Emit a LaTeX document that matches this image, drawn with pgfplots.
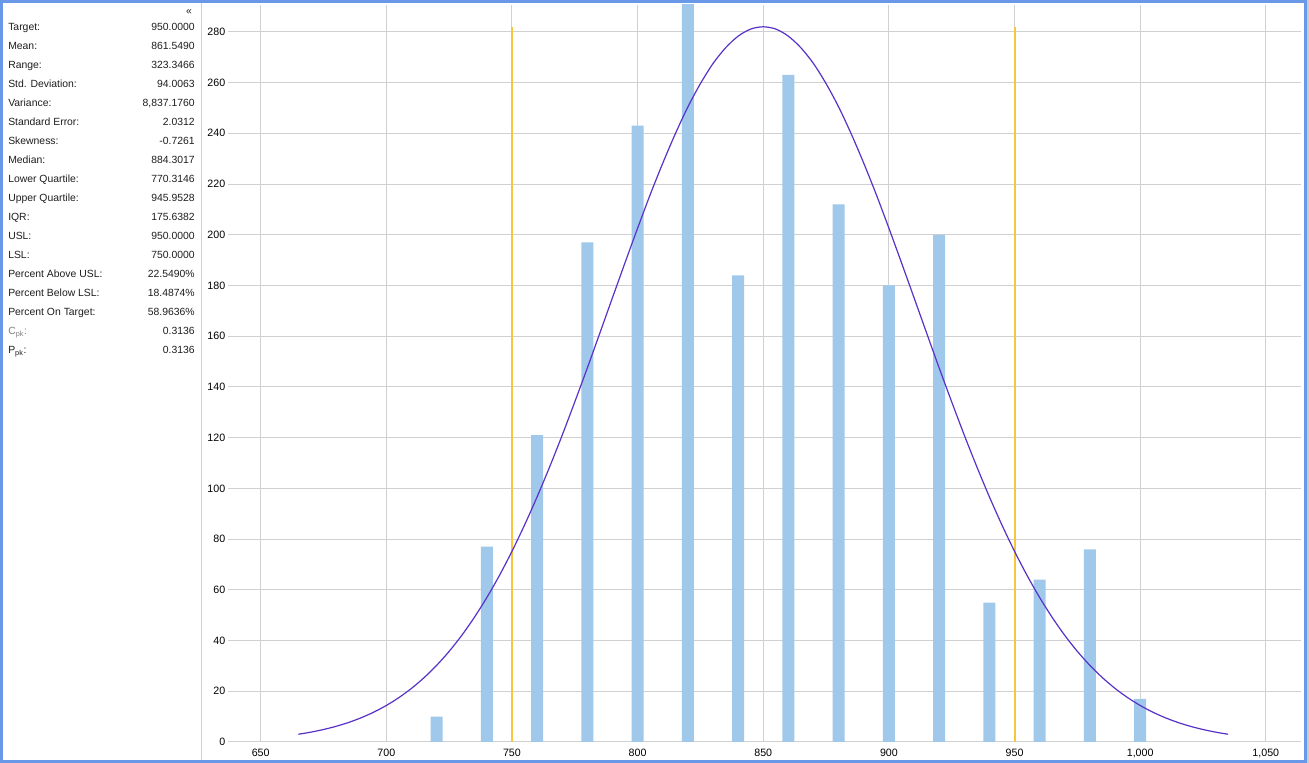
\documentclass[border=0pt]{standalone}
\usepackage{fontspec}
\setmainfont{Liberation Sans}
\usepackage{pgfplots}
\pgfplotsset{compat=1.18}
\definecolor{barblue}{RGB}{160,200,235}
\definecolor{specline}{RGB}{248,198,60}
\definecolor{curvecol}{RGB}{88,50,200}
\definecolor{gridgray}{RGB}{208,208,208}
\definecolor{frameblue}{RGB}{106,152,232}
\definecolor{txt}{RGB}{30,30,30}
\begin{document}
\begin{tikzpicture}[x=0.75pt,y=0.75pt]
\useasboundingbox (0,0) rectangle (1309,763);
\fill[white] (0,0) rectangle (1309,763);
\draw[gridgray, line width=0.75pt] (201.5,3) -- (201.5,760);
\begin{scope}[font=\fontsize{7.8}{9}\selectfont, text=txt]
\node[anchor=center] at (189,751) {«};
\foreach \lab/\val [count=\i] in {
 {Target:}/{950.0000},
 {Mean:}/{861.5490},
 {Range:}/{323.3466},
 {Std. Deviation:}/{94.0063},
 {Variance:}/{8,837.1760},
 {Standard Error:}/{2.0312},
 {Skewness:}/{-0.7261},
 {Median:}/{884.3017},
 {Lower Quartile:}/{770.3146},
 {Upper Quartile:}/{945.9528},
 {IQR:}/{175.6382},
 {USL:}/{950.0000},
 {LSL:}/{750.0000},
 {Percent Above USL:}/{22.5490\%},
 {Percent Below LSL:}/{18.4874\%},
 {Percent On Target:}/{58.9636\%},
 {\textcolor{gray}{C\textsubscript{pk}:}}/{0.3136},
 {P\textsubscript{pk}:}/{0.3136}} {
  \node[anchor=base west, inner sep=0pt] at (8,{763-31-(\i-1)*19}) {\lab};
  \node[anchor=base east, inner sep=0pt] at (195,{763-31-(\i-1)*19}) {\val};
}
\end{scope}
\begin{axis}[
  at={(171pt,15.75pt)}, anchor=south west, scale only axis,
  width=804.75pt, height=552.75pt,
  xmin=637, xmax=1064, ymin=0, ymax=290.6,
  xtick={650,700,...,1050}, ytick={0,20,...,280},
  grid=major, grid style={gridgray, line width=0.75pt},
  separate axis lines,
  axis x line*=bottom,
  x axis line style={gridgray, line width=0.75pt, -},
  y axis line style={draw=none},
  major tick length=0pt,
  tick style={draw=none},
  ticklabel style={font=\fontsize{8}{9}\selectfont, text=black},
  xticklabel style={yshift=-2pt},
  yticklabel style={xshift=1.5pt},
  /pgf/number format/1000 sep={,},
  /pgf/number format/assume math mode=true,
]
\addplot[ybar, bar width=4.8, fill=barblue, draw=none] coordinates {
 (720,10) (740,77) (760,121) (780,197) (800,243) (820,292) (840,184)
 (860,263) (880,212) (900,180) (920,200) (940,55) (960,64) (980,76) (1000,17)};
\addplot[specline, line width=1.5pt] coordinates {(750,0) (750,282)};
\addplot[specline, line width=1.5pt] coordinates {(950,0) (950,282)};
\addplot[curvecol, line width=0.9pt, smooth] coordinates {
 (665,3.06) (670,3.89) (675,4.92) (680,6.18) (685,7.71) (690,9.56)
 (695,11.77) (700,14.40) (705,17.50) (710,21.13) (715,25.34) (720,30.20)
 (725,35.73) (730,42.02) (735,49.10) (740,56.96) (745,65.65) (750,75.18)
 (755,85.53) (760,96.65) (765,108.5) (770,121.0) (775,134.1) (780,147.5)
 (785,161.3) (790,175.2) (795,189.0) (800,202.6) (805,215.8) (810,228.2)
 (815,239.8) (820,250.4) (825,259.6) (830,267.5) (835,273.7) (840,278.3)
 (845,281.1) (850,282.0) (855,281.1) (860,278.3) (865,273.7) (870,267.5)
 (875,259.6) (880,250.4) (885,239.8) (890,228.2) (895,215.8) (900,202.6)
 (905,189.0) (910,175.2) (915,161.3) (920,147.5) (925,134.1) (930,121.0)
 (935,108.5) (940,96.65) (945,85.53) (950,75.18) (955,65.65) (960,56.96)
 (965,49.10) (970,42.02) (975,35.73) (980,30.20) (985,25.34) (990,21.13)
 (995,17.50) (1000,14.40) (1005,11.77) (1010,9.56) (1015,7.71) (1020,6.18)
 (1025,4.92) (1030,3.89) (1035,3.06)};
\end{axis}
\draw[frameblue, line width=2.25pt] (1.5,1.5) rectangle (1305.5,761.5);
\fill[gray!40] (1307,0) rectangle (1309,763);
\end{tikzpicture}
\end{document}
